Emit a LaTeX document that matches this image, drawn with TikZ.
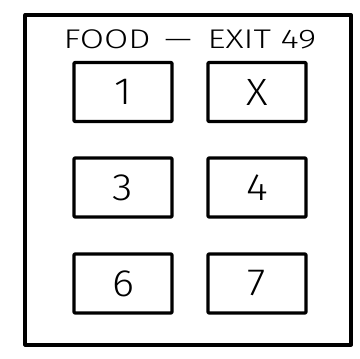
\documentclass[tikz,border=0pt]{standalone}
\usepackage{fontspec}
\newfontfamily\cad{Fira Sans Light}
\newfontfamily\cadwide[FakeStretch=1.3]{Fira Sans Light}
\newfontfamily\caddigit[FakeStretch=1.1]{Fira Sans Light}
\begin{document}
\begin{tikzpicture}[x=1pt,y=-1pt,
  frame/.style={draw=black,line width=4pt,line join=round},
  exitbox/.style={draw=black,line width=3.2pt,line join=round,rounded corners=0.8pt,minimum width=98pt,minimum height=59pt,inner sep=0pt,font=\caddigit\fontsize{38}{38}\selectfont},
  title/.style={inner sep=0pt,font=\cadwide\fontsize{27}{27}\selectfont}]
\useasboundingbox (0,0) rectangle (360,359);
\draw[frame] (25.5,15) rectangle (351,344.5);
\node[title] (t) at (190,39.5) {FOOD\hspace{4pt} — \hspace{6pt}EXIT 49};
\node[exitbox] (b1) at (123,92) {1};
\node[exitbox] (bx) at (257,92) {X};
\node[exitbox] (b3) at (123,187.5) {3};
\node[exitbox] (b4) at (257,187.5) {4};
\node[exitbox] (b6) at (123,283.5) {6};
\node[exitbox] (b7) at (257,283.5) {7};
\end{tikzpicture}
\end{document}
